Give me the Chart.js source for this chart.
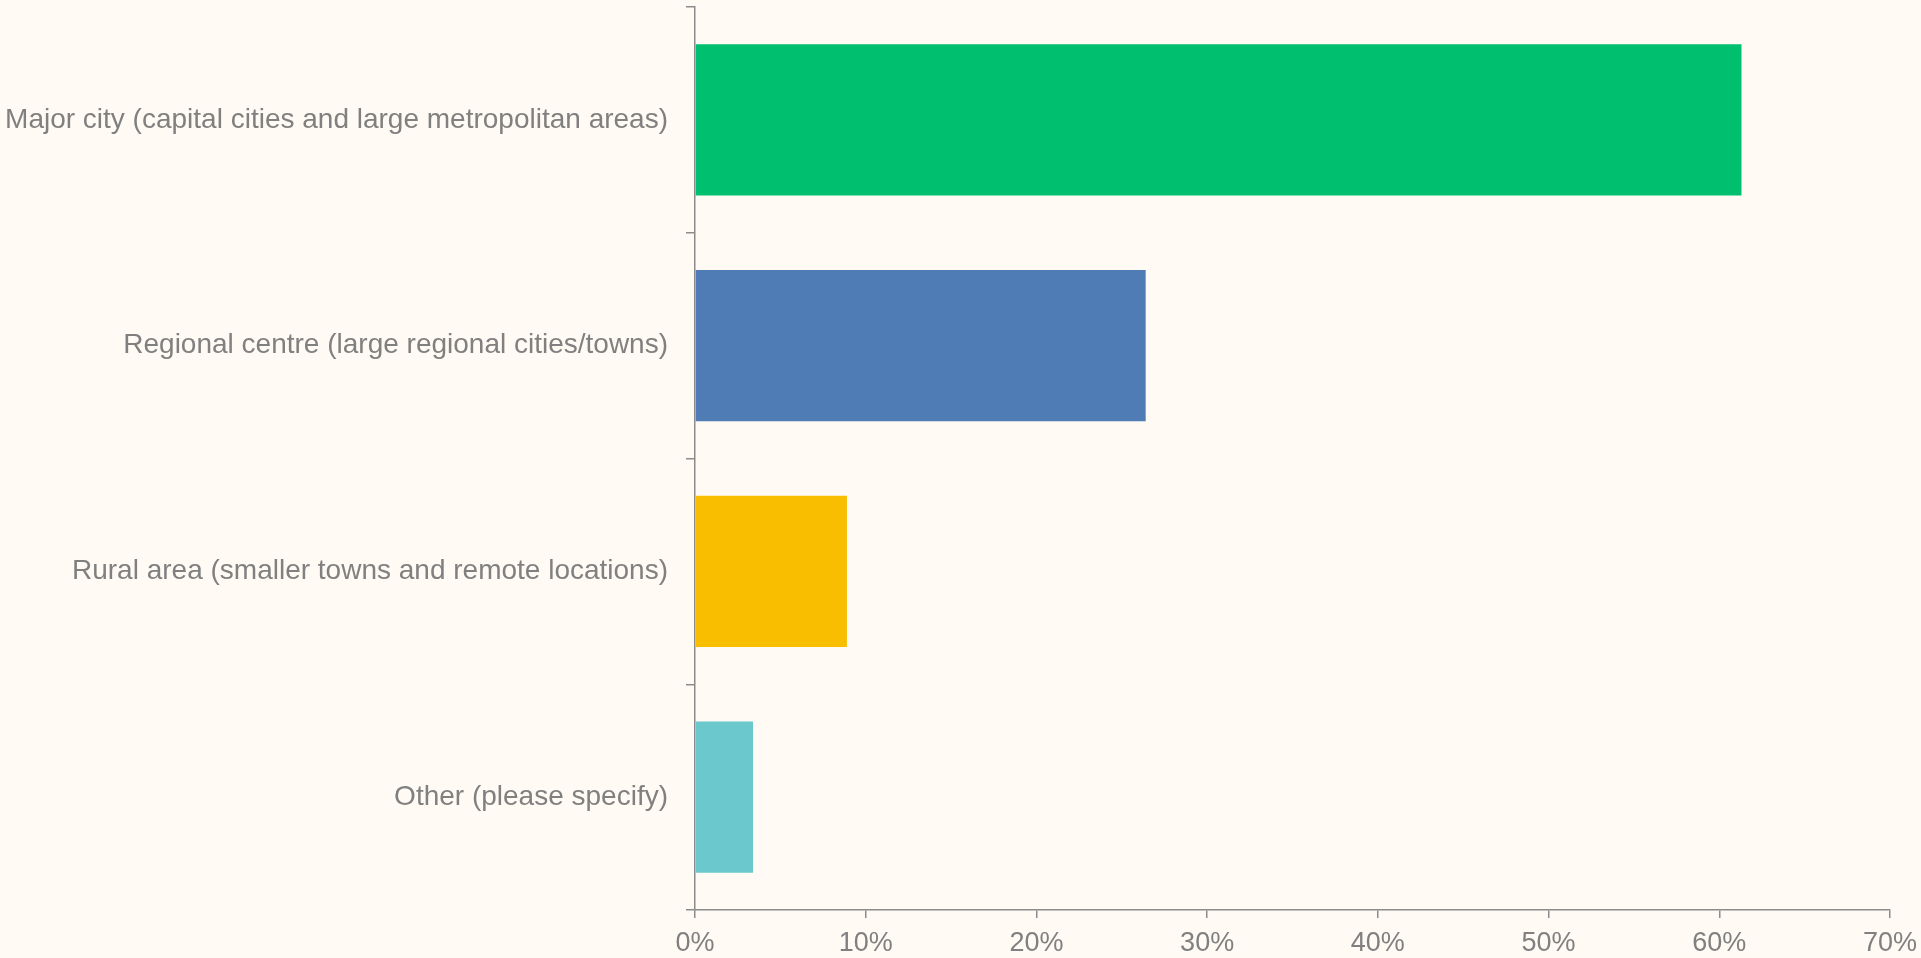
<!DOCTYPE html>
<html>
<head>
<meta charset="utf-8">
<script src="https://cdn.jsdelivr.net/npm/chart.js@4"></script>
<style>
    html, body { margin: 0; padding: 0; background: #fffaf3; overflow: hidden; }
    #wrap { width: 1921px; height: 958px; position: relative; }
</style>
</head>
<body>
<div id="wrap"><canvas id="chart"></canvas></div>
<script>
// Data
const categories = [
    "Major city (capital cities and large metropolitan areas)",
    "Regional centre (large regional cities/towns)",
    "Rural area (smaller towns and remote locations)",
    "Other (please specify)"
];
const shares = [61.3, 26.4, 8.9, 3.4];
const barColors = ["#00bf6f", "#507cb6", "#f9be00", "#6bc8cd"];
const xTicks = [0, 10, 20, 30, 40, 50, 60, 70];

const textColor = "#808080";
const axisColor = "#8c8c8c";
const family = "'Liberation Sans', Arial, Helvetica, sans-serif";

new Chart(document.getElementById("chart"), {
    type: "bar",
    data: {
        labels: categories,
        datasets: [{
            data: shares,
            backgroundColor: barColors,
            borderWidth: 0,
            categoryPercentage: 1,
            barPercentage: 0.67
        }]
    },
    options: {
        indexAxis: "y",
        responsive: true,
        maintainAspectRatio: false,
        animation: false,
        layout: { padding: { top: 7, right: 31, left: 0, bottom: 0 } },
        plugins: {
            legend: { display: false },
            tooltip: { enabled: false }
        },
        scales: {
            x: {
                min: 0,
                max: 70,
                afterBuildTicks: scale => {
                    scale.ticks = xTicks.map(v => ({ value: v }));
                },
                // keep the plot edges where the reference has them
                afterFit: scale => {
                    scale.height = 48;
                    scale.paddingLeft = 0;
                    scale.paddingRight = 0;
                },
                ticks: {
                    color: textColor,
                    font: { family: family, size: 27 },
                    padding: 9,
                    callback: v => v + "%"
                },
                grid: {
                    drawOnChartArea: false,
                    color: axisColor,
                    tickLength: 8,
                    lineWidth: 1.5
                },
                border: { color: axisColor, width: 1.5 }
            },
            y: {
                afterFit: scale => {
                    scale.width = 695;
                    scale.paddingTop = 0;
                    scale.paddingBottom = 0;
                },
                ticks: {
                    color: textColor,
                    font: { family: family, size: 28 },
                    padding: 18
                },
                grid: {
                    drawOnChartArea: false,
                    color: axisColor,
                    tickLength: 9,
                    lineWidth: 1.5
                },
                border: { color: axisColor, width: 1.5 }
            }
        }
    }
});
</script>
</body>
</html>
